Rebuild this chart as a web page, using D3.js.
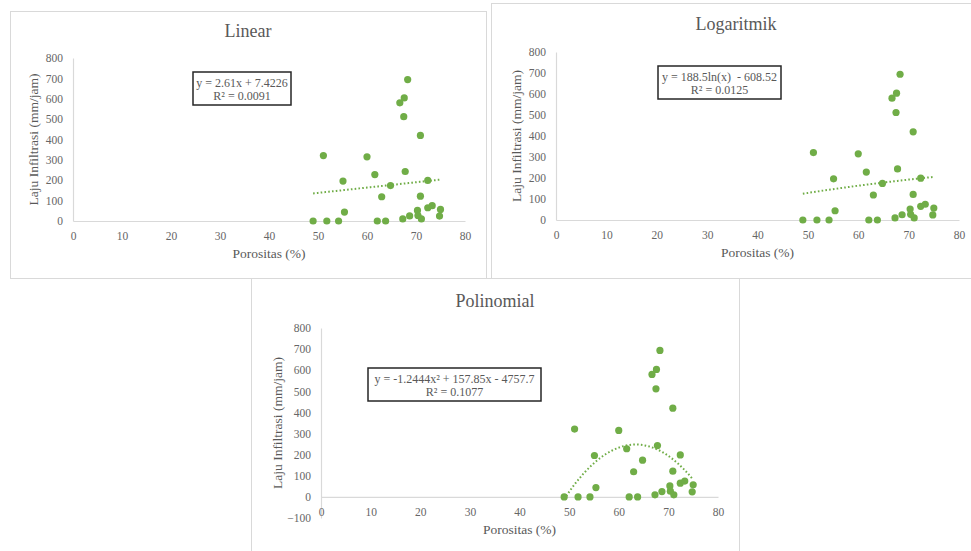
<!DOCTYPE html>
<html>
<head>
<meta charset="utf-8">
<script src="https://cdn.jsdelivr.net/npm/d3@7"></script>
<style>
  body { margin: 0; background: #fff; }
  svg text { font-family: "Liberation Serif", "Times New Roman", serif; fill: #595959; white-space: pre; }
</style>
</head>
<body>
<svg id="chart" width="971" height="551"></svg>
<script>
// porosity (%) vs infiltration rate (mm/jam), same points on all three charts
var porositas = [49, 51.1, 51.8, 54.2, 55.1, 55.4, 60.0, 61.6, 62.1, 63.0, 63.8, 64.8, 66.7, 67.3, 67.6,
                 67.5, 67.8, 68.3, 68.7, 70.3, 70.4, 70.9, 70.9, 71.1, 72.4, 72.4, 73.3, 74.8, 75.0];
var infiltrasi = [0, 321, 0, 0, 196, 44, 315, 228, 0, 119, 0, 174, 580, 10, 604,
                  512, 243, 694, 25, 52, 27, 420, 122, 10, 199, 65, 75, 24, 57];

var xTicks = [0, 10, 20, 30, 40, 50, 60, 70, 80];
var yTicks = [0, 100, 200, 300, 400, 500, 600, 700, 800];
var yTicksPoly = [-100, 0, 100, 200, 300, 400, 500, 600, 700, 800];

// trendline coefficients, as printed on each chart
var linCoef = [2.61, 7.4226];
var logCoef = [188.5, -608.52];
var polyCoef = [-1.2444, 157.85, -4757.7];

var titles = ["Linear", "Logaritmik", "Polinomial"];
var eqLines = [
  ["y = 2.61x + 7.4226", "R\u00b2 = 0.0091"],
  ["y = 188.5ln(x)  - 608.52", "R\u00b2 = 0.0125"],
  ["y = -1.2444x\u00b2 + 157.85x - 4757.7", "R\u00b2 = 0.1077"]
];

var trendFns = [
  function (x) { return linCoef[0] * x + linCoef[1]; },
  function (x) { return logCoef[0] * Math.log(x) + logCoef[1]; },
  function (x) { return polyCoef[0] * x * x + polyCoef[1] * x + polyCoef[2]; }
];

// panel layout
var panels = [
  { frame: [10.5, 11.5, 476, 267], px: [73, 465], py: [221, 58], yDom: [0, 800], yt: yTicks,
    title: [248, 37], box: [193, 72, 98, 33], ytOff: 40 },
  { frame: [491.5, 3.5, 500, 275], px: [556, 959], py: [220, 52], yDom: [0, 800], yt: yTicks,
    title: [736, 30], box: [658, 66, 123, 33], ytOff: 40 },
  { frame: [251.5, 278.5, 488, 290], px: [321, 718], py: [518, 328], yDom: [-100, 800], yt: yTicksPoly,
    title: [495, 307], box: [368, 368, 173, 33], ytOff: 44 }
];

var green = "#70ad47";
var svg = d3.select("#chart");
svg.append("rect").attr("width", 971).attr("height", 551).attr("fill", "#fff");

panels.forEach(function (p, i) {
  var g = svg.append("g");

  g.append("rect")
    .attr("x", p.frame[0]).attr("y", p.frame[1])
    .attr("width", p.frame[2]).attr("height", p.frame[3])
    .attr("fill", "#fff").attr("stroke", "#d9d9d9").attr("stroke-width", 1);

  var x = d3.scaleLinear().domain([0, 80]).range(p.px);
  var y = d3.scaleLinear().domain(p.yDom).range(p.py);

  g.append("text")
    .attr("x", p.title[0]).attr("y", p.title[1])
    .attr("text-anchor", "middle")
    .style("font-size", "18px")
    .text(titles[i]);

  var yAxis = g.append("g")
    .attr("transform", "translate(" + p.px[0] + ",0)")
    .call(d3.axisLeft(y).tickValues(p.yt).tickSize(0).tickPadding(10));
  var xAxis = g.append("g")
    .attr("transform", "translate(0," + y(0) + ")")
    .call(d3.axisBottom(x).tickValues(xTicks).tickSize(0).tickPadding(11));

  [xAxis, yAxis].forEach(function (a) {
    a.select(".domain").attr("stroke", "#d9d9d9").attr("stroke-width", 1.2);
    a.selectAll("text")
      .style("font-family", "'Liberation Serif', 'Times New Roman', serif")
      .style("font-size", "11.5px").style("fill", "#666");
  });

  g.append("text")
    .attr("x", (p.px[0] + p.px[1]) / 2).attr("y", y(0) + 37)
    .attr("text-anchor", "middle")
    .style("font-size", "13.5px")
    .text("Porositas (%)");

  g.append("text")
    .attr("transform", "translate(" + (p.px[0] - p.ytOff) + "," + ((p.py[0] + p.py[1]) / 2) + ") rotate(-90)")
    .attr("text-anchor", "middle")
    .attr("dy", "0.35em")
    .style("font-size", "13.5px")
    .text("Laju Infiltrasi (mm/jam)");

  // dotted trendline across the data range
  var ext = d3.extent(porositas);
  var xs = d3.range(ext[0], ext[1] + 0.001, 0.25);
  g.append("path")
    .datum(xs)
    .attr("fill", "none")
    .attr("stroke", green)
    .attr("stroke-width", 2)
    .attr("stroke-dasharray", "1.6,2.2")
    .attr("d", d3.line().x(function (d) { return x(d); }).y(function (d) { return y(trendFns[i](d)); }));

  g.selectAll("circle.pt")
    .data(porositas)
    .enter().append("circle")
    .attr("class", "pt")
    .attr("cx", function (d) { return x(d); })
    .attr("cy", function (d, k) { return y(infiltrasi[k]); })
    .attr("r", 3.6)
    .attr("fill", green);

  // equation label
  g.append("rect")
    .attr("x", p.box[0]).attr("y", p.box[1])
    .attr("width", p.box[2]).attr("height", p.box[3])
    .attr("fill", "#fff").attr("stroke", "#262626").attr("stroke-width", 1.5);
  eqLines[i].forEach(function (t, k) {
    g.append("text")
      .attr("x", p.box[0] + p.box[2] / 2)
      .attr("y", p.box[1] + 15 + k * 12.5)
      .attr("text-anchor", "middle")
      .style("font-size", "12px")
      .text(t);
  });
});
</script>
</body>
</html>
